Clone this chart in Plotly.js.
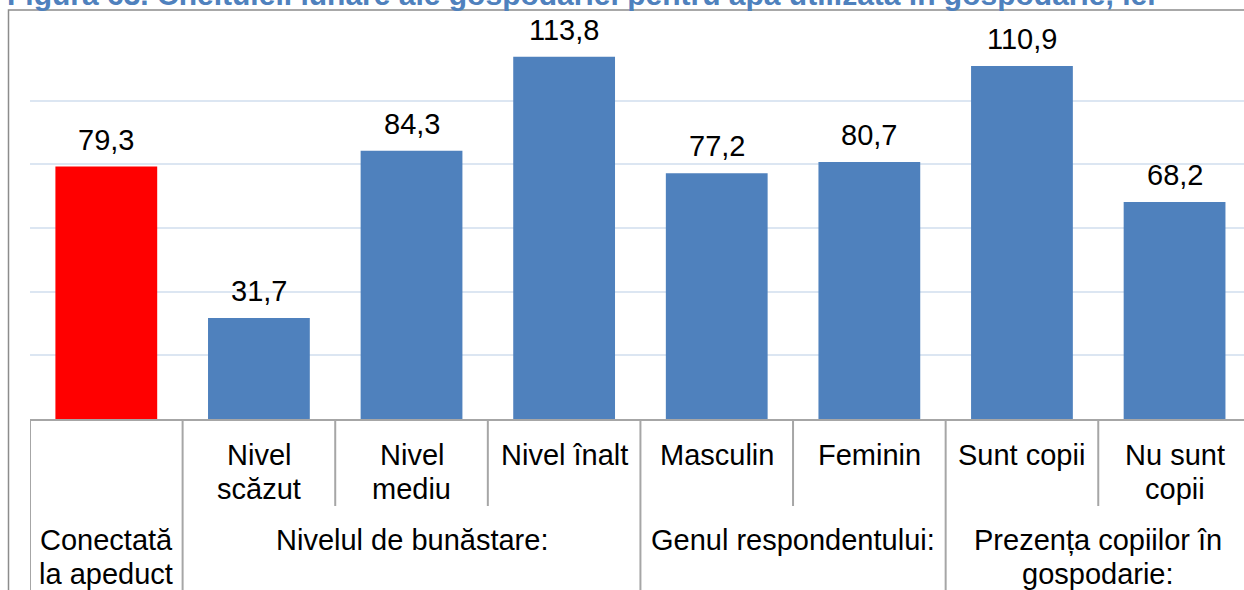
<!DOCTYPE html>
<html>
<head>
<meta charset="utf-8">
<script src="https://cdn.plot.ly/plotly-3.0.1.min.js"></script>
<style>html,body{margin:0;padding:0;background:#fff;overflow:hidden}#chart{width:1244px;height:590px}</style>
</head>
<body>
<div id="chart"></div>
<script>
// ---- data ----
var categories = ["Conectată la apeduct", "Nivel scăzut", "Nivel mediu", "Nivel înalt", "Masculin", "Feminin", "Sunt copii", "Nu sunt copii"];
var values = [79.3, 31.7, 84.3, 113.8, 77.2, 80.7, 110.9, 68.2];
var barColors = ["#FF0000", "#4F81BD", "#4F81BD", "#4F81BD", "#4F81BD", "#4F81BD", "#4F81BD", "#4F81BD"];
var subLabels = ["", "Nivel\nscăzut", "Nivel\nmediu", "Nivel înalt", "Masculin", "Feminin", "Sunt copii", "Nu sunt\ncopii"];
var groupLabels = ["Conectată\nla apeduct", "Nivelul de bunăstare:", "Genul respondentului:", "Prezența copiilor în\ngospodarie:"];
var groupStart = [0, 1, 4, 6];
var groupEnd = [0, 3, 5, 7];
var titleText = "Figura 63. Cheltuieli lunare ale gospodăriei pentru apă utilizată în gospodărie, lei";

// ---- layout helpers ----
var W = 1244, H = 590, ML = 30, MT = 37, MB = 171;
var plotH = H - MT - MB;
function py(px) { return (419 - px) / plotH; } // pixel row -> paper y
var FONT = "Liberation Sans, Arial, sans-serif";
var lineGap = 34;

var annotations = [];
var shapes = [];

// value labels
values.forEach(function (v, i) {
  annotations.push({
    x: categories[i], y: v, xref: "x", yref: "y",
    text: v.toFixed(1).replace(".", ","), showarrow: false,
    yanchor: "bottom", yshift: 9,
    font: { family: FONT, size: 29, color: "#000" }
  });
});

// sub-category labels
subLabels.forEach(function (lab, i) {
  if (!lab) return;
  lab.split("\n").forEach(function (ln, k) {
    annotations.push({
      x: categories[i], y: py(455 + k * lineGap), xref: "x", yref: "paper",
      text: ln, showarrow: false, yanchor: "middle",
      font: { family: FONT, size: 29, color: "#000" }
    });
  });
});

// group labels
groupLabels.forEach(function (lab, g) {
  var cx = (groupStart[g] + groupEnd[g]) / 2;
  lab.split("\n").forEach(function (ln, k) {
    annotations.push({
      x: cx, y: py(540 + k * lineGap), xref: "x", yref: "paper",
      text: ln, showarrow: false, yanchor: "middle",
      font: { family: FONT, size: 29, color: "#000" }
    });
  });
});

// title (cut at top, as in the source image)
annotations.push({
  x: (5 - ML) / (W - ML), y: py(-5), xref: "paper", yref: "paper",
  xanchor: "left", yanchor: "middle", showarrow: false,
  text: "<b>" + titleText + "</b>",
  font: { family: FONT, size: 30, color: "#4F81BD" }
});

// table lines
var lineStyle = { color: "#A6A6A6", width: 2 };
for (var b = 0; b <= categories.length; b++) {
  var xb = b - 0.5;
  var full = (b === 0) || groupStart.indexOf(b) >= 0;
  shapes.push({
    type: "line", xref: "x", yref: "paper",
    x0: xb, x1: xb, y0: 0, y1: full ? py(600) : py(506),
    line: lineStyle
  });
}
// outer frame
shapes.push({
  type: "rect", xref: "paper", yref: "paper",
  x0: (8.5 - ML) / (W - ML), x1: 1.05, y0: py(620), y1: py(10),
  line: { color: "#8C8C8C", width: 1.5 }, layer: "below"
});

var trace = {
  type: "bar",
  x: categories,
  y: values,
  marker: { color: barColors },
  width: 0.667,
  hoverinfo: "none"
};

var layout = {
  width: W, height: H,
  margin: { l: ML, r: 0, t: MT, b: MB, pad: 0 },
  paper_bgcolor: "#fff", plot_bgcolor: "#fff",
  showlegend: false,
  separators: ", ",
  xaxis: {
    type: "category", range: [-0.5, 7.455],
    showticklabels: false, ticks: "", showgrid: false, zeroline: false,
    showline: true, linecolor: "#A6A6A6", linewidth: 2, fixedrange: true
  },
  yaxis: {
    range: [0, 120], dtick: 20, showticklabels: false, ticks: "",
    showgrid: true, gridcolor: "#DCE6F2", gridwidth: 2,
    zeroline: false, showline: false, fixedrange: true
  },
  annotations: annotations,
  shapes: shapes
};

Plotly.newPlot("chart", [trace], layout, { staticPlot: true, displayModeBar: false });
</script>
</body>
</html>
